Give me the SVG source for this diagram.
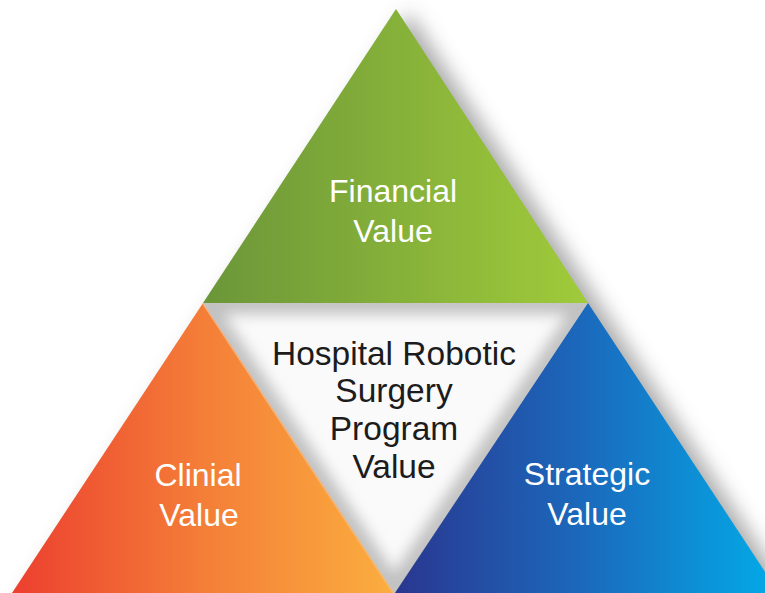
<svg xmlns="http://www.w3.org/2000/svg" width="765" height="593" viewBox="0 0 765 593">
  <defs>
    <linearGradient id="gGreen" gradientUnits="userSpaceOnUse" x1="203" y1="0" x2="588" y2="0">
      <stop offset="0" stop-color="#6b9639"/>
      <stop offset="1" stop-color="#a0cb3a"/>
    </linearGradient>
    <linearGradient id="gOrange" gradientUnits="userSpaceOnUse" x1="12" y1="0" x2="394" y2="0">
      <stop offset="0" stop-color="#ec3f2f"/>
      <stop offset="0.5" stop-color="#f47e38"/>
      <stop offset="1" stop-color="#fbae3f"/>
    </linearGradient>
    <linearGradient id="gBlue" gradientUnits="userSpaceOnUse" x1="394" y1="0" x2="778" y2="0">
      <stop offset="0" stop-color="#2a368f"/>
      <stop offset="0.5" stop-color="#1b6abd"/>
      <stop offset="1" stop-color="#02abe8"/>
    </linearGradient>
    <filter id="dropShadow" x="-20%" y="-20%" width="140%" height="140%">
      <feGaussianBlur stdDeviation="10"/>
    </filter>
    <filter id="innerBlur" x="-20%" y="-20%" width="140%" height="140%">
      <feGaussianBlur stdDeviation="7"/>
    </filter>
    <clipPath id="centerClip">
      <polygon points="203,303 588,303 394,593"/>
    </clipPath>
    <style>
      .label { font-family: "Liberation Sans", Arial, sans-serif; font-size: 32px; fill: #ffffff; text-anchor: middle; }
      .core { font-family: "Liberation Sans", Arial, sans-serif; font-size: 33.5px; fill: #1c1c1c; text-anchor: middle; }
    </style>
  </defs>

  <rect width="765" height="593" fill="#ffffff"/>

  <!-- soft shadow behind the whole pyramid -->
  <polygon points="398,12 786,605 8,605" fill="#5a5a5a" opacity="0.5" filter="url(#dropShadow)" transform="translate(11,0)"/>

  <!-- centre: inverted triangle with inner shading -->
  <g id="center">
    <polygon points="203,303 588,303 394,593" fill="#fafafa"/>
    <g clip-path="url(#centerClip)">
      <polygon points="203,303 588,303 394,593" fill="none" stroke="#a8a8a8" stroke-width="22" filter="url(#innerBlur)" opacity="0.7"/>
    </g>
    <text class="core" x="394" y="365">Hospital Robotic</text>
    <text class="core" x="394" y="402">Surgery</text>
    <text class="core" x="394" y="440">Program</text>
    <text class="core" x="394" y="478">Value</text>
  </g>

  <!-- top: financial -->
  <g id="financial">
    <polygon points="396,9 588,303 203,303" fill="url(#gGreen)"/>
    <text class="label" x="393" y="202">Financial</text>
    <text class="label" x="393" y="242">Value</text>
  </g>

  <!-- bottom left: clinical -->
  <g id="clinical">
    <polygon points="203,303 394,593 12,593" fill="url(#gOrange)"/>
    <line x1="203" y1="304" x2="393" y2="593" stroke="#f6c08a" stroke-width="1.2" opacity="0.8"/>
    <text class="label" x="198" y="486">Clinial</text>
    <text class="label" x="199" y="526">Value</text>
  </g>

  <!-- bottom right: strategic -->
  <g id="strategic">
    <polygon points="588,303 779,593 395,593" fill="url(#gBlue)"/>
    <text class="label" x="587" y="485">Strategic</text>
    <text class="label" x="587" y="525">Value</text>
  </g>
</svg>
